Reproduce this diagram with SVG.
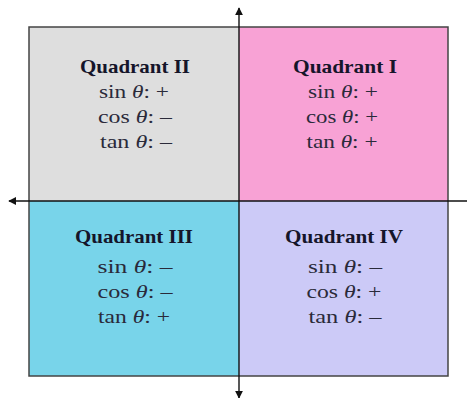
<svg xmlns="http://www.w3.org/2000/svg" width="467" height="398" viewBox="0 0 467 398">
<defs>
<marker id="ah" viewBox="0 0 10 10" refX="9" refY="5" markerWidth="8" markerHeight="8" markerUnits="userSpaceOnUse" orient="auto-start-reverse">
<path d="M0,0 L10,5 L0,10 Z" fill="#111"/>
</marker>
<style>
.q{stroke:none}
.t{font-family:"Liberation Serif","Times New Roman",serif;font-weight:bold;font-size:19.5px;fill:#15152a;text-anchor:middle}
.b{font-family:"Liberation Serif","Times New Roman",serif;font-size:19px;fill:#2a2a3a;text-anchor:middle}
.i{font-style:italic}
.ax{stroke:#111;stroke-width:1.4;fill:none}
</style>
</defs>
<rect width="467" height="398" fill="#ffffff"/>
<g id="q2">
<rect class="q" x="29" y="27" width="210" height="174" fill="#dedede"/>
<text class="t" x="135" y="73" textLength="110" lengthAdjust="spacingAndGlyphs">Quadrant II</text>
<text class="b" x="134" y="98" textLength="70" lengthAdjust="spacingAndGlyphs">sin <tspan class="i">θ</tspan>: +</text>
<text class="b" x="135" y="123" textLength="74" lengthAdjust="spacingAndGlyphs">cos <tspan class="i">θ</tspan>: –</text>
<text class="b" x="136" y="148" textLength="72" lengthAdjust="spacingAndGlyphs">tan <tspan class="i">θ</tspan>: –</text>
</g>
<g id="q1">
<rect class="q" x="239" y="27" width="209" height="174" fill="#f8a2d5"/>
<text class="t" x="345" y="73" textLength="104" lengthAdjust="spacingAndGlyphs">Quadrant I</text>
<text class="b" x="343" y="98" textLength="70" lengthAdjust="spacingAndGlyphs">sin <tspan class="i">θ</tspan>: +</text>
<text class="b" x="342" y="123" textLength="72" lengthAdjust="spacingAndGlyphs">cos <tspan class="i">θ</tspan>: +</text>
<text class="b" x="342" y="148" textLength="71" lengthAdjust="spacingAndGlyphs">tan <tspan class="i">θ</tspan>: +</text>
</g>
<g id="q3">
<rect class="q" x="29" y="201" width="210" height="175" fill="#78d4ea"/>
<text class="t" x="134" y="243" textLength="118" lengthAdjust="spacingAndGlyphs">Quadrant III</text>
<text class="b" x="135" y="273" textLength="75" lengthAdjust="spacingAndGlyphs">sin <tspan class="i">θ</tspan>: –</text>
<text class="b" x="135" y="298" textLength="75" lengthAdjust="spacingAndGlyphs">cos <tspan class="i">θ</tspan>: –</text>
<text class="b" x="134" y="323" textLength="72" lengthAdjust="spacingAndGlyphs">tan <tspan class="i">θ</tspan>: +</text>
</g>
<g id="q4">
<rect class="q" x="239" y="201" width="209" height="175" fill="#cccaf7"/>
<text class="t" x="344" y="243" textLength="118" lengthAdjust="spacingAndGlyphs">Quadrant IV</text>
<text class="b" x="345" y="273" textLength="74" lengthAdjust="spacingAndGlyphs">sin <tspan class="i">θ</tspan>: –</text>
<text class="b" x="344" y="298" textLength="75" lengthAdjust="spacingAndGlyphs">cos <tspan class="i">θ</tspan>: +</text>
<text class="b" x="345" y="323" textLength="73" lengthAdjust="spacingAndGlyphs">tan <tspan class="i">θ</tspan>: –</text>
</g>
<rect x="29" y="27" width="419" height="349" fill="none" stroke="#444" stroke-width="1.5"/>
<g id="connectors">
<line class="ax" x1="239" y1="398" x2="239" y2="8" marker-start="url(#ah)" marker-end="url(#ah)"/>
<line class="ax" x1="467" y1="201" x2="9" y2="201" marker-end="url(#ah)"/>
</g>
</svg>
